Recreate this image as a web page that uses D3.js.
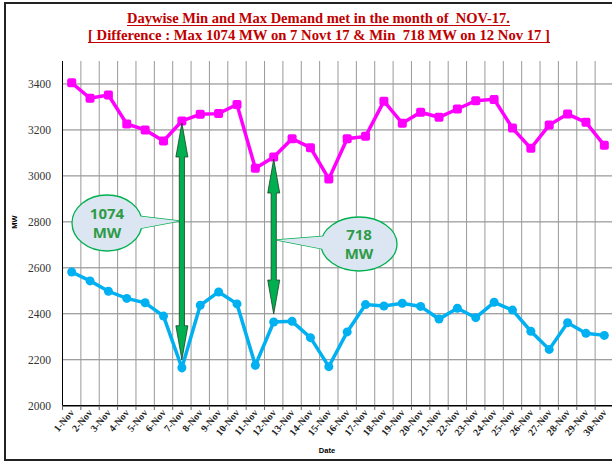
<!DOCTYPE html>
<html>
<head>
<meta charset="utf-8">
<script src="https://cdn.jsdelivr.net/npm/d3@7"></script>
<style>
  body { margin: 0; background: #fff; }
  svg { display: block; }
  text { white-space: pre; }
</style>
</head>
<body>
<div id="chart"></div>
<script>
// Dates on the x axis
var dates = [];
for (var d = 1; d <= 30; d++) dates.push(d + "-Nov");

// Daily max demand (MW)
var maxDemand = [3405, 3338, 3352, 3226, 3200, 3152, 3239, 3268, 3271, 3311,
                 3033, 3082, 3162, 3123, 2987, 3162, 3172, 3325, 3229, 3277,
                 3255, 3291, 3327, 3333, 3208, 3120, 3221, 3269, 3233, 3133];

// Daily min demand (MW)
var minDemand = [2582, 2543, 2498, 2467, 2448, 2390, 2165, 2437, 2495, 2443,
                 2176, 2364, 2367, 2296, 2170, 2321, 2440, 2434, 2446, 2432,
                 2377, 2424, 2383, 2450, 2416, 2324, 2245, 2361, 2315, 2306];

var yTicks = [2000, 2200, 2400, 2600, 2800, 3000, 3200, 3400];

var titleLines = [
  "Daywise Min and Max Demand met in the month of  NOV-17.",
  "[ Difference : Max 1074 MW on 7 Novt 17 & Min  718 MW on 12 Nov 17 ]"
];

// Callouts: which day and what label
var callouts = [
  { day: "7-Nov", label: "1074" },
  { day: "12-Nov", label: "718" }
];

var svgWidth = 612, svgHeight = 463;

var svg = d3.select("#chart").append("svg")
  .attr("width", svgWidth)
  .attr("height", svgHeight);

// outer frame
svg.append("rect")
  .attr("x", 5).attr("y", 3)
  .attr("width", 640).attr("height", 457)
  .attr("fill", "none")
  .attr("stroke", "#222")
  .attr("stroke-width", 2);

// plot scales
var x = d3.scaleBand().domain(dates).range([62.5, 613.5]).padding(0);
var y = d3.scaleLinear().domain([2000, 3500]).range([405.7, 61]);
var cx = function(d) { return x(d) + x.bandwidth() / 2; };

// Title, with drawn underlines
var titlePos = [{ x: 318.5, y: 23, w: 383 }, { x: 319, y: 40, w: 462 }];
titleLines.forEach(function(s, i) {
  var p = titlePos[i];
  svg.append("text")
    .attr("x", p.x).attr("y", p.y)
    .attr("text-anchor", "middle")
    .attr("font-family", "Liberation Serif, Times New Roman, serif")
    .attr("font-weight", "bold")
    .attr("font-size", 14)
    .attr("fill", "#c00000")
    .attr("textLength", p.w).attr("lengthAdjust", "spacingAndGlyphs")
    .text(s);
  svg.append("line")
    .attr("x1", p.x - p.w / 2).attr("x2", p.x + p.w / 2)
    .attr("y1", p.y + 2.5).attr("y2", p.y + 2.5)
    .attr("stroke", "#c00000").attr("stroke-width", 1.2);
});

// horizontal gridlines
svg.append("g").selectAll("line")
  .data(yTicks.slice(1))
  .enter().append("line")
  .attr("x1", 62.5).attr("x2", 613)
  .attr("y1", d => y(d)).attr("y2", d => y(d))
  .attr("stroke", "#808080").attr("stroke-width", 1);

// vertical gridlines at category boundaries
svg.append("g").selectAll("line")
  .data(dates.slice(1))
  .enter().append("line")
  .attr("x1", d => x(d)).attr("x2", d => x(d))
  .attr("y1", 61).attr("y2", 405.7)
  .attr("stroke", "#999").attr("stroke-width", 1);

// axes lines
svg.append("line")
  .attr("x1", 62.5).attr("x2", 62.5).attr("y1", 61).attr("y2", 405.7)
  .attr("stroke", "#000").attr("stroke-width", 1);
svg.append("line")
  .attr("x1", 62.5).attr("x2", 613).attr("y1", 405.7).attr("y2", 405.7)
  .attr("stroke", "#000").attr("stroke-width", 1.5);

// x tick marks
svg.append("g").selectAll("line")
  .data(dates)
  .enter().append("line")
  .attr("x1", d => x(d)).attr("x2", d => x(d))
  .attr("y1", 405.7).attr("y2", 410)
  .attr("stroke", "#666");

// y tick labels
svg.append("g").selectAll("text")
  .data(yTicks)
  .enter().append("text")
  .attr("x", 51).attr("y", d => y(d) + 4)
  .attr("text-anchor", "end")
  .attr("font-family", "Liberation Serif, Times New Roman, serif")
  .attr("font-size", 11.5)
  .attr("fill", "#333")
  .text(d => d);

// x tick labels
svg.append("g").selectAll("text")
  .data(dates)
  .enter().append("text")
  .attr("transform", d => "translate(" + (cx(d) + 3) + ",413) rotate(-50)")
  .attr("text-anchor", "end")
  .attr("font-family", "Liberation Serif, Times New Roman, serif")
  .attr("font-weight", "bold")
  .attr("font-size", 10)
  .attr("fill", "#222")
  .text(d => d);

// axis titles
svg.append("text")
  .attr("transform", "translate(17,222) rotate(-90)")
  .attr("text-anchor", "middle")
  .attr("font-family", "Liberation Sans, Arial, sans-serif")
  .attr("font-weight", "bold")
  .attr("font-size", 7.5)
  .text("MW");
svg.append("text")
  .attr("x", 327).attr("y", 453)
  .attr("text-anchor", "middle")
  .attr("font-family", "Liberation Sans, Arial, sans-serif")
  .attr("font-weight", "bold")
  .attr("font-size", 7.5)
  .text("Date");

// lines
var line = function(vals) {
  return d3.line()
    .x((v, i) => cx(dates[i]))
    .y(v => y(v))(vals);
};

svg.append("path")
  .attr("d", line(maxDemand))
  .attr("fill", "none")
  .attr("stroke", "#ff00ff")
  .attr("stroke-width", 3.5);
svg.append("g").selectAll("rect")
  .data(maxDemand)
  .enter().append("rect")
  .attr("x", (v, i) => cx(dates[i]) - 4.5)
  .attr("y", v => y(v) - 4.5)
  .attr("width", 9).attr("height", 9)
  .attr("rx", 2)
  .attr("fill", "#ff00ff");

svg.append("path")
  .attr("d", line(minDemand))
  .attr("fill", "none")
  .attr("stroke", "#00b0f0")
  .attr("stroke-width", 3.5);
svg.append("g").selectAll("circle")
  .data(minDemand)
  .enter().append("circle")
  .attr("cx", (v, i) => cx(dates[i]))
  .attr("cy", v => y(v))
  .attr("r", 4.5)
  .attr("fill", "#00b0f0");

// double arrows between max and min
function arrowPath(xc, yTop, yBot) {
  var sw = 2.6, hw = 6, hl = 34;
  var pts = [
    [xc, yTop], [xc + hw, yTop + hl], [xc + sw, yTop + hl],
    [xc + sw, yBot - hl], [xc + hw, yBot - hl], [xc, yBot],
    [xc - hw, yBot - hl], [xc - sw, yBot - hl], [xc - sw, yTop + hl],
    [xc - hw, yTop + hl]
  ];
  return "M" + pts.map(p => p.join(",")).join("L") + "Z";
}

callouts.forEach(function(c) {
  var i = dates.indexOf(c.day);
  svg.append("path")
    .attr("d", arrowPath(cx(c.day), y(maxDemand[i]) + 2, y(minDemand[i]) - 8))
    .attr("fill", "#00b050")
    .attr("stroke", "#1d3d24")
    .attr("stroke-width", 0.8);
});

// speech-bubble callouts
var bubbles = [
  { label: callouts[0].label, ex: 107, ey: 223, rx: 35, ry: 28, tip: [179, 221], b1: [137, 216], b2: [137, 229] },
  { label: callouts[1].label, ex: 359, ey: 244, rx: 38, ry: 27, tip: [277, 240], b1: [328, 236], b2: [328, 250] }
];

bubbles.forEach(function(b) {
  var tail = "M" + b.b1.join(",") + "L" + b.tip.join(",") + "L" + b.b2.join(",") + "Z";
  var g = svg.append("g");
  g.append("path").attr("d", tail)
    .attr("fill", "#dce6f2").attr("stroke", "#00b050").attr("stroke-width", 1.3);
  g.append("ellipse")
    .attr("cx", b.ex).attr("cy", b.ey).attr("rx", b.rx).attr("ry", b.ry)
    .attr("fill", "#dce6f2").attr("stroke", "#00b050").attr("stroke-width", 1.3);
  g.append("path").attr("d", tail).attr("fill", "#dce6f2");
  var t = g.append("text")
    .attr("text-anchor", "middle")
    .attr("font-family", "Open Sans, Liberation Sans, sans-serif")
    .attr("font-weight", "bold")
    .attr("font-size", 15)
    .attr("fill", "#2e9b47");
  t.append("tspan").attr("x", b.ex).attr("y", b.ey - 4).text(b.label);
  t.append("tspan").attr("x", b.ex).attr("y", b.ey + 15).text("MW");
});
</script>
</body>
</html>
